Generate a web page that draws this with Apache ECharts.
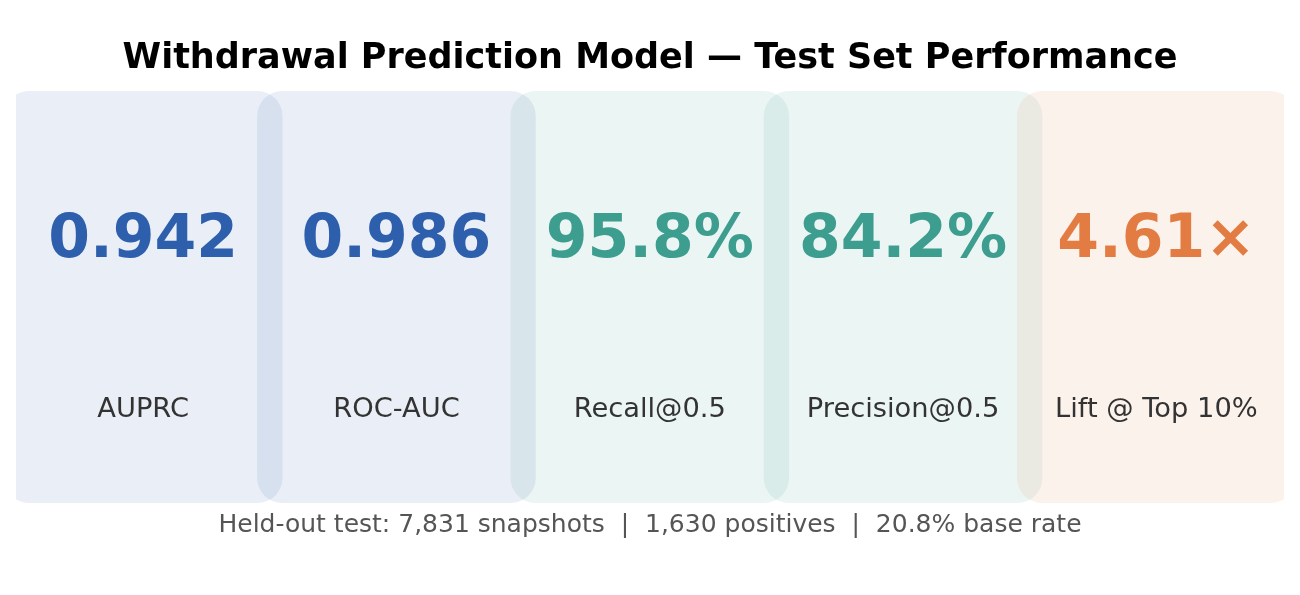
<!DOCTYPE html>
<html>
<head>
<meta charset="utf-8">
<script src="https://cdn.jsdelivr.net/npm/echarts@6/dist/echarts.min.js"></script>
<style>
html,body{margin:0;padding:0;background:#fff;}
#chart{width:1300px;height:595px;}
</style>
</head>
<body>
<div id="chart"></div>
<script>
// ---- data ----
const metricNames = ['AUPRC', 'ROC-AUC', 'Recall@0.5', 'Precision@0.5', 'Lift @ Top 10%'];
const metricValues = [0.942, 0.986, 0.958, 0.842, 4.61];
const metricDisplay = ['0.942', '0.986', '95.8%', '84.2%', '4.61×'];
const metricGroup = ['rank', 'rank', 'threshold', 'threshold', 'lift'];
const titleText = 'Withdrawal Prediction Model — Test Set Performance';
const testSnapshots = '7,831';
const testPositives = '1,630';
const baseRate = '20.8%';

// ---- styles ----
const groupColor = { rank: '#2e5fac', threshold: '#3d9e8f', lift: '#e27c42' };
const FONT = '"DejaVu Sans", sans-serif';

const subtitle = 'Held-out test: ' + testSnapshots + ' snapshots  |  ' + testPositives +
  ' positives  |  ' + baseRate + ' base rate';

const chart = echarts.init(document.getElementById('chart'), null, { renderer: 'canvas' });

const data = metricNames.map((n, i) => [i, metricValues[i]]);

function hexA(hex, a) {
  const r = parseInt(hex.slice(1, 3), 16), g = parseInt(hex.slice(3, 5), 16), b = parseInt(hex.slice(5, 7), 16);
  return 'rgba(' + r + ',' + g + ',' + b + ',' + a + ')';
}

chart.setOption({
  animation: false,
  backgroundColor: '#ffffff',
  grid: { left: 16.5, right: 17, top: 91, bottom: 92 },
  xAxis: { type: 'value', min: 0, max: 5, show: false },
  yAxis: { type: 'value', min: 0, max: 1, show: false },
  graphic: [
    {
      type: 'text', left: 'center', top: 41,
      style: { text: titleText, font: 'bold 35px ' + FONT, fill: '#000000' }
    },
    {
      type: 'text', left: 'center', top: 513,
      style: { text: subtitle, font: '25px ' + FONT, fill: '#555555' }
    }
  ],
  series: [
    {
      type: 'custom',
      clip: true,
      data: data,
      renderItem: function (params, api) {
        const i = api.value(0);
        const col = groupColor[metricGroup[i]];
        const p0 = api.coord([i - 0.05, 1]);
        const p1 = api.coord([i + 1.05, 0]);
        return {
          type: 'rect',
          shape: { x: p0[0], y: p0[1], width: p1[0] - p0[0], height: p1[1] - p0[1], r: 25 },
          style: { fill: hexA(col, 0.1) }
        };
      }
    },
    {
      type: 'custom',
      clip: false,
      data: data,
      z: 5,
      renderItem: function (params, api) {
        const i = api.value(0);
        const col = groupColor[metricGroup[i]];
        const pv = api.coord([i + 0.5, 0.634]);
        const pl = api.coord([i + 0.5, 0.226]);
        return {
          type: 'group',
          children: [
            {
              type: 'text',
              style: {
                x: pv[0], y: pv[1], text: metricDisplay[i],
                font: 'bold 60px ' + FONT, fill: col,
                align: 'center', verticalAlign: 'middle'
              }
            },
            {
              type: 'text',
              style: {
                x: pl[0], y: pl[1], text: metricNames[i],
                font: '27.3px ' + FONT, fill: '#333333',
                align: 'center', verticalAlign: 'middle'
              }
            }
          ]
        };
      }
    }
  ]
});
</script>
</body>
</html>
